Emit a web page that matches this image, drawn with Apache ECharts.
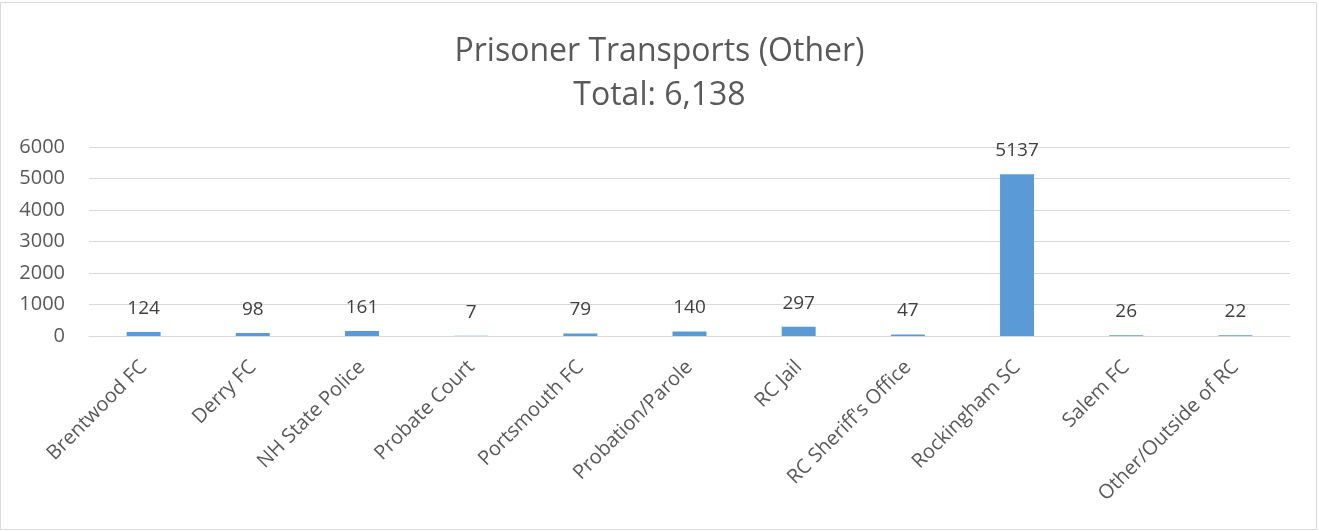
<!DOCTYPE html>
<html>
<head>
<meta charset="utf-8">
<script src="https://cdn.jsdelivr.net/npm/echarts@6/dist/echarts.min.js"></script>
<style>
html,body{margin:0;padding:0;background:#fff;}
#c{width:1319px;height:531px;}
</style>
</head>
<body>
<div id="c"></div>
<script>
const categories = ["Brentwood FC","Derry FC","NH State Police","Probate Court","Portsmouth FC","Probation/Parole","RC Jail","RC Sheriff's Office","Rockingham SC","Salem FC","Other/Outside of RC"];
const values = [124,98,161,7,79,140,297,47,5137,26,22];
const titleLines = ["Prisoner Transports (Other)","Total: 6,138"];
const yTicks = {min:0,max:6000,interval:1000};

const chart = echarts.init(document.getElementById('c'), null, {renderer:'canvas'});
chart.setOption({
  animation:false,
  backgroundColor:'#fff',
  graphic:[{type:'rect',shape:{x:0.5,y:2.5,width:1316,height:527},style:{fill:'none',stroke:'#d9d9d9',lineWidth:1},silent:true}],
  title:{
    text:titleLines.join('\n'),
    left:'center', top:25,
    textStyle:{fontFamily:'Open Sans',fontSize:32,fontWeight:'normal',color:'#595959',lineHeight:44}
  },
  grid:{left:89,right:29,top:147,bottom:195},
  xAxis:{
    type:'category',data:categories,
    axisLine:{lineStyle:{color:'#d9d9d9',width:1}},
    axisTick:{show:false},
    axisLabel:{rotate:45,interval:0,fontFamily:'Open Sans',fontSize:20,color:'#595959',margin:28}
  },
  yAxis:{
    type:'value',min:yTicks.min,max:yTicks.max,interval:yTicks.interval,
    axisLine:{show:false},axisTick:{show:false},
    splitLine:{lineStyle:{color:'#d9d9d9',width:1}},
    axisLabel:{fontFamily:'Open Sans',fontSize:20,color:'#595959',margin:24,formatter:function(v){return String(v);}}
  },
  series:[{
    type:'bar',data:values,barWidth:34,
    itemStyle:{color:'#5b9bd5'},
    label:{show:true,position:'top',distance:14,fontFamily:'Open Sans',fontSize:19,color:'#404040'}
  }]
});
</script>
</body>
</html>
